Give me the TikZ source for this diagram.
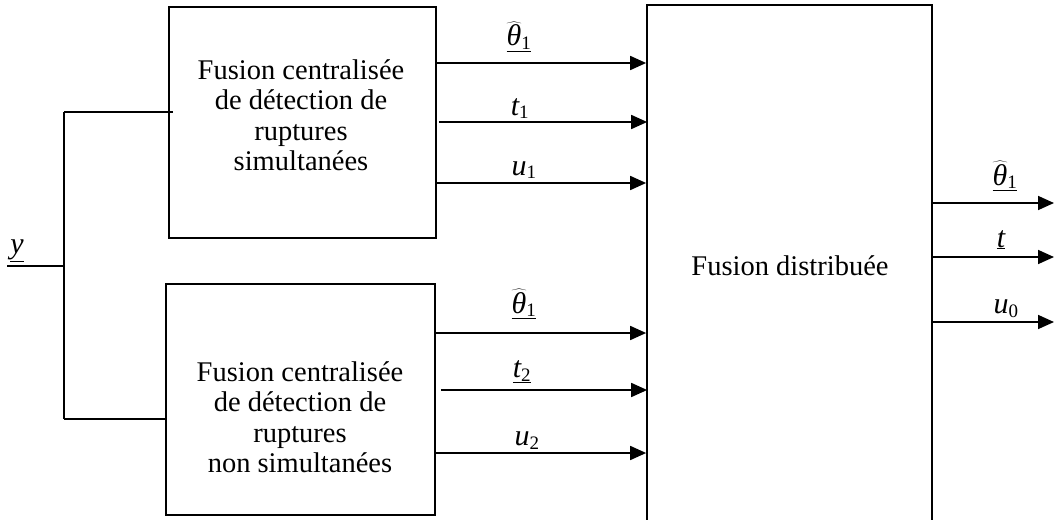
\documentclass[tikz,border=0pt]{standalone}
\usepackage{fontspec}
\setmainfont{Liberation Serif}
\usetikzlibrary{arrows.meta}
\newcommand{\iv}[1]{\mbox{\fontsize{30}{30}\selectfont\itshape #1}}
\newcommand{\sv}[1]{\mbox{\fontsize{19}{19}\selectfont #1}}
\begin{document}
\begin{tikzpicture}[x=1pt,y=-1pt,
  box/.style={draw,line width=1.7pt,rectangle,inner sep=0pt},
  wire/.style={line width=1.7pt},
  arr/.style={line width=1.7pt,-{Triangle[length=16pt,width=14pt]}},
  lbl/.style={anchor=base,inner sep=0pt,font=\fontsize{30}{30}\selectfont},
  txt/.style={align=center,inner sep=0pt,font=\fontsize{28.5}{30.5}\selectfont}]
\useasboundingbox (0,0) rectangle (1054,519);
% boxes
\node[box,minimum width=267pt,minimum height=231pt] (b1) at (302.5,122.5) {};
\node[box,minimum width=269pt,minimum height=231pt] (b2) at (300.5,399.5) {};
\node[box,minimum width=285pt,minimum height=520pt] (b3) at (789.5,265) {};
\node[txt] (t1) at (301,115) {Fusion centralisée\\de détection de\\ruptures\\ simultanées};
\node[txt] (t2) at (300,417) {Fusion centralisée\\de détection de\\ruptures\\ non simultanées};
\node[txt] (t3) at (790,266) {Fusion distribuée};
% input
\coordinate (yin) at (7,266);
\coordinate (split) at (64,266);
\draw[wire] (yin) -- (split);
\draw[wire] (split |- 0,112) -- (split |- 0,419);
\draw[wire] (split |- 0,112) -- ([xshift=5pt]b1.west |- 0,112);
\draw[wire] (split |- 0,419) -- (b2.west |- 0,419);
\node[lbl] (ly) at (17,253) {$\underline{\iv{y}}$};
% top arrows
\draw[arr] (b1.east |- 0,63) -- (b3.west |- 0,63);
\draw[arr] ([xshift=2pt]b1.east |- 0,122) -- ([xshift=1pt]b3.west |- 0,122);
\draw[arr] (b1.east |- 0,183) -- (b3.west |- 0,183);
\node[lbl] (la1) at (519,46) {$\underline{\widehat{\iv{θ}}_{\sv{1}}}$};
\node[lbl] (la2) at (520,115) {$\iv{t}_{\sv{1}}$};
\node[lbl] (la3) at (524,175) {$\iv{u}_{\sv{1}}$};
% bottom arrows
\draw[arr] (b2.east |- 0,333) -- (b3.west |- 0,333);
\draw[arr] ([xshift=5pt]b2.east |- 0,390) -- ([xshift=1pt]b3.west |- 0,390);
\draw[arr] (b2.east |- 0,453) -- (b3.west |- 0,453);
\node[lbl] (lb1) at (524,313) {$\underline{\widehat{\iv{θ}}_{\sv{1}}}$};
\node[lbl] (lb2) at (522,377) {$\underline{\iv{t}_{\sv{2}}}$};
\node[lbl] (lb3) at (527,445) {$\iv{u}_{\sv{2}}$};
% outputs
\coordinate (o1) at (1054,203);
\coordinate (o2) at (1054,257);
\coordinate (o3) at (1054,322);
\draw[arr] (b3.east |- o1) -- (o1);
\draw[arr] (b3.east |- o2) -- (o2);
\draw[arr] (b3.east |- o3) -- (o3);
\node[lbl] (lc1) at (1005,185) {$\underline{\widehat{\iv{θ}}_{\sv{1}}}$};
\node[lbl] (lc2) at (1001,247) {$\underline{\iv{t}}$};
\node[lbl] (lc3) at (1006,313) {$\iv{u}_{\sv{0}}$};
\end{tikzpicture}
\end{document}
